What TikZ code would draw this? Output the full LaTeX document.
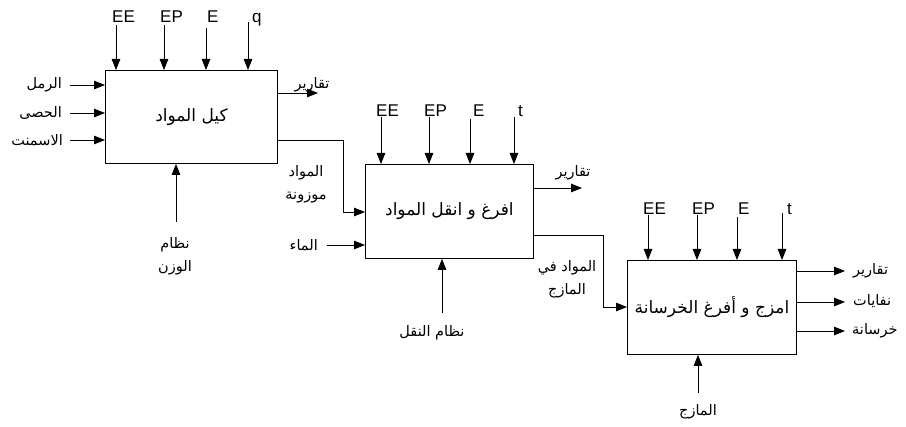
\documentclass[tikz,border=0pt]{standalone}
\usepackage{fontspec}
\setmainfont{Liberation Sans}
\newfontfamily\arabicfont[Script=Arabic]{DejaVu Sans}
\TeXXeTstate=1
\usetikzlibrary{arrows.meta}
\newcommand{\artx}[1]{\beginR #1\endR}
\begin{document}
\begin{tikzpicture}[x=1pt,y=-1pt,
  proc/.style={draw, line width=0.9pt, inner sep=0pt, anchor=north west,
    font=\arabicfont\fontsize{17}{20}\selectfont},
  flow/.style={line width=0.8pt, -{Triangle[length=11pt,width=8.5pt]}},
  lat/.style={font=\fontsize{17}{17}\selectfont, inner sep=0pt, anchor=base west},
  arb/.style={font=\arabicfont\fontsize{14.5}{23}\selectfont, inner sep=0pt, align=center}]
\useasboundingbox[fill=white] (0,0) rectangle (906,427);

% ---------- boxes
\node[proc, minimum width=172pt, minimum height=93pt] (b1) at (105,70) {\artx{كيل المواد}};
\node[proc, minimum width=168pt, minimum height=94pt] (b2) at (365,164) {\artx{افرغ و انقل المواد}};
\node[proc, minimum width=169pt, minimum height=94pt] (b3) at (627,260) {\artx{امزج و أفرغ الخرسانة}};

% ---------- box 1 top inputs
\node[lat] (l1a) at (112,23) {EE};
\node[lat] (l1b) at (160,23) {EP};
\node[lat] (l1c) at (207,23) {E};
\node[lat] (l1d) at (252,23) {q};
\coordinate (t1a) at (116,25); \coordinate (t1b) at (164,25);
\coordinate (t1c) at (206,28); \coordinate (t1d) at (248,22);
\foreach \c in {t1a,t1b,t1c,t1d} \draw[flow] (\c) -- (\c |- b1.north);

% box 1 left inputs
\node[arb, anchor=east] (r1) at (62,85) {\artx{الرمل}};
\node[arb, anchor=east] (r2) at (62,113) {\artx{الحصى}};
\node[arb, anchor=east] (r3) at (63,140) {\artx{الاسمنت}};
\coordinate (i1) at (70,85); \coordinate (i2) at (70,113); \coordinate (i3) at (70,140);
\foreach \c in {i1,i2,i3} \draw[flow] (\c) -- (\c -| b1.west);

% box 1 bottom
\node[arb] (m1) at (175,256) {\artx{نظام}\\\artx{الوزن}};
\coordinate (m1s) at (176,222);
\draw[flow] (m1s) -- (m1s |- b1.south);

% box 1 outputs
\coordinate (o1a) at (277,93);
\coordinate (o1e) at (318,93);
\draw[flow] (o1a) -- (o1e);
\node[arb] (rep1) at (312,85) {\artx{تقارير}};
\coordinate (o1b) at (277,140);
\coordinate (o1k) at (343,140);
\draw[flow] (o1b) -- (o1k) |- (b2.west |- 0,212);
\node[arb] (mw) at (306,184) {\artx{المواد}\\\artx{موزونة}};

% ---------- box 2 top inputs
\node[lat] (l2a) at (376,117) {EE};
\node[lat] (l2b) at (424,117) {EP};
\node[lat] (l2c) at (473,117) {E};
\node[lat] (l2d) at (518,117) {t};
\coordinate (t2a) at (381,117); \coordinate (t2b) at (429,117);
\coordinate (t2c) at (470,119); \coordinate (t2d) at (514,117);
\foreach \c in {t2a,t2b,t2c,t2d} \draw[flow] (\c) -- (\c |- b2.north);

% box 2 water
\node[arb, anchor=east] (water) at (318,245) {\artx{الماء}};
\coordinate (iw) at (327,245);
\draw[flow] (iw) -- (iw -| b2.west);

% box 2 bottom
\node[arb] (m2) at (432,333) {\artx{نظام النقل}};
\coordinate (m2s) at (442,313);
\draw[flow] (m2s) -- (m2s |- b2.south);

% box 2 outputs
\coordinate (o2a) at (533,188);
\coordinate (o2e) at (582,188);
\draw[flow] (o2a) -- (o2e);
\node[arb] (rep2) at (573,173) {\artx{تقارير}};
\coordinate (o2b) at (533,235);
\coordinate (o2k) at (603,235);
\draw[flow] (o2b) -- (o2k) |- (b3.west |- 0,307);
\node[arb] (mm) at (567,279) {\artx{المواد في}\\\artx{المازج}};

% ---------- box 3 top inputs
\node[lat] (l3a) at (643,215) {EE};
\node[lat] (l3b) at (692,215) {EP};
\node[lat] (l3c) at (738,215) {E};
\node[lat] (l3d) at (787,215) {t};
\coordinate (t3a) at (648,215); \coordinate (t3b) at (697,215);
\coordinate (t3c) at (737,217); \coordinate (t3d) at (782,213);
\foreach \c in {t3a,t3b,t3c,t3d} \draw[flow] (\c) -- (\c |- b3.north);

% box 3 bottom
\node[arb] (m3) at (698,412) {\artx{المازج}};
\coordinate (m3s) at (698,393);
\draw[flow] (m3s) -- (m3s |- b3.south);

% box 3 outputs
\coordinate (e1) at (845,271); \coordinate (e2) at (845,302); \coordinate (e3) at (845,331);
\foreach \c in {e1,e2,e3} \draw[flow] (\c -| b3.east) -- (\c);
\node[arb, anchor=west] (x1) at (853,271) {\artx{تقارير}};
\node[arb, anchor=west] (x2) at (853,301) {\artx{نفايات}};
\node[arb, anchor=west] (x3) at (852,331) {\artx{خرسانة}};
\end{tikzpicture}
\end{document}
